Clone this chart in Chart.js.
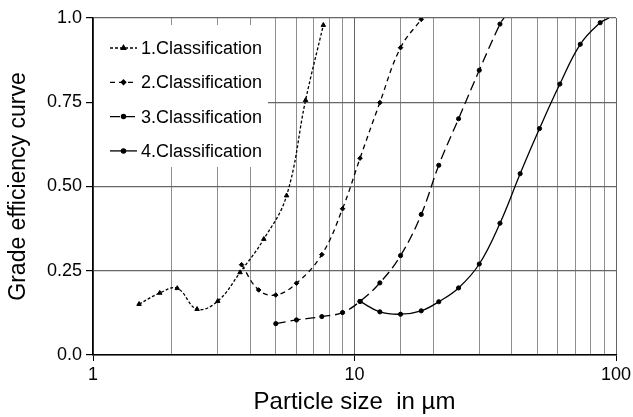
<!DOCTYPE html>
<html lang="en">
<head>
    <meta charset="UTF-8">
    <title>Grade efficiency curve</title>
    <script src="https://cdn.jsdelivr.net/npm/chart.js"></script>
    <style>
        body {
            margin: 0;
            background: #fff;
        }
        #wrap {
            width: 633px;
            height: 417px;
        }
    </style>
</head>
<body>
    <div id="wrap"><canvas id="chart" width="633" height="417"></canvas></div>

    <script>
        // Data (x = particle size in µm, y = grade efficiency)
        const labels = ['1.Classification', '2.Classification', '3.Classification', '4.Classification'];

        const size1 = [1.5, 1.8, 2.1, 2.5, 3.0, 3.65, 4.5, 5.5, 6.5, 7.6];
        const eff1  = [0.151, 0.184, 0.198, 0.136, 0.16, 0.245, 0.344, 0.473, 0.756, 0.979];

        const size2 = [3.7, 4.3, 5, 6, 7.5, 9, 10.5, 12.5, 15, 18];
        const eff2  = [0.268, 0.193, 0.178, 0.213, 0.298, 0.434, 0.584, 0.749, 0.912, 0.996];

        const size3 = [5, 6, 7.5, 9, 10.5, 12.5, 15, 18, 21, 25, 30, 36, 37.3];
        const eff3  = [0.093, 0.104, 0.114, 0.126, 0.159, 0.214, 0.295, 0.417, 0.563, 0.701, 0.845, 0.982, 1.0];

        const size4 = [10.5, 12.5, 15, 18, 21, 25, 30, 36, 43, 51, 61, 73, 87, 94];
        const eff4  = [0.159, 0.128, 0.121, 0.131, 0.158, 0.199, 0.27, 0.391, 0.538, 0.672, 0.804, 0.922, 0.986, 1.0];

        // how many points of each series carry a marker (the rest is the curve running into 1.0)
        const marked = [10, 10, 12, 13];

        const xTickLabels = [1, 10, 100];
        const yTickLabels = ['0.0', '0.25', '0.50', '0.75', '1.0'];

        const FONT = "'Liberation Sans', Arial, sans-serif";

        function pts(xs, ys) {
            return xs.map((x, i) => ({ x: x, y: ys[i] }));
        }

        const styles = [
            { dash: [3, 2],  point: 'triangle', r: 2.6 },
            { dash: [5, 4],  point: 'rectRot',  r: 2.3 },
            { dash: [10, 5], point: 'circle',   r: 2.1 },
            { dash: [],      point: 'circle',   r: 2.1 }
        ];
        const series = [pts(size1, eff1), pts(size2, eff2), pts(size3, eff3), pts(size4, eff4)];

        const datasets = series.map((d, i) => ({
            label: labels[i],
            data: d,
            borderColor: '#000',
            backgroundColor: '#000',
            borderWidth: 1.3,
            borderDash: styles[i].dash,
            pointStyle: styles[i].point,
            pointRadius: ctx => ctx.dataIndex < marked[i] ? styles[i].r : 0,
            pointBorderWidth: 1,
            tension: 0.4,
            fill: false
        }));

        // legend inside the plot, top left, on a white box
        const insideLegend = {
            id: 'insideLegend',
            afterDatasetsDraw(chart) {
                const ctx = chart.ctx;
                ctx.save();
                ctx.fillStyle = '#fff';
                ctx.fillRect(94, 25, 174, 142);
                ctx.font = '18px ' + FONT;
                ctx.textBaseline = 'middle';
                chart.data.datasets.forEach((ds, i) => {
                    const y = 48 + i * 34.3;
                    ctx.strokeStyle = '#000';
                    ctx.lineWidth = 1.3;
                    ctx.setLineDash(styles[i].dash);
                    ctx.beginPath();
                    ctx.moveTo(110, y);
                    ctx.lineTo(137, y);
                    ctx.stroke();
                    ctx.setLineDash([]);
                    ctx.fillStyle = '#000';
                    Chart.helpers.drawPoint(ctx, {
                        pointStyle: styles[i].point, radius: styles[i].r, rotation: 0, borderWidth: 1
                    }, 123.5, y);
                    ctx.fillStyle = '#000';
                    ctx.fillText(ds.label, 141, y + 1);
                });
                ctx.restore();
            }
        };

        new Chart(document.getElementById('chart').getContext('2d'), {
            type: 'line',
            data: { datasets: datasets },
            options: {
                responsive: false,
                animation: false,
                layout: { padding: { top: 18, right: 17, left: 0, bottom: 0 } },
                plugins: {
                    legend: { display: false },
                    tooltip: { enabled: false }
                },
                scales: {
                    x: {
                        type: 'logarithmic',
                        min: 1,
                        max: 100,
                        afterFit: scale => {
                            scale.height = 62;
                            scale.paddingLeft = 0;
                            scale.paddingRight = 0;
                        },
                        border: { color: '#000', width: 1.5 },
                        grid: {
                            color: ctx => xTickLabels.includes(ctx.tick && ctx.tick.value) ? '#666' : '#8f8f8f',
                            lineWidth: 1,
                            tickLength: 6,
                            tickColor: ctx => xTickLabels.includes(ctx.tick && ctx.tick.value) ? '#000' : 'rgba(0,0,0,0)'
                        },
                        ticks: {
                            autoSkip: false,
                            maxRotation: 0,
                            color: '#000',
                            padding: 3,
                            font: { family: FONT, size: 18 },
                            callback: v => xTickLabels.includes(v) ? String(v) : ''
                        },
                        title: {
                            display: true,
                            text: 'Particle size  in µm',
                            color: '#000',
                            font: { family: FONT, size: 24 },
                            padding: { top: 0, bottom: 0 }
                        }
                    },
                    y: {
                        min: 0,
                        max: 1,
                        afterFit: scale => { scale.width = 93; },
                        border: { color: '#000', width: 1.5 },
                        grid: {
                            color: '#666',
                            lineWidth: 1.2,
                            tickLength: 7,
                            tickColor: '#000'
                        },
                        ticks: {
                            stepSize: 0.25,
                            color: '#000',
                            padding: 4,
                            font: { family: FONT, size: 18 },
                            callback: (v, i) => yTickLabels[i]
                        },
                        title: {
                            display: true,
                            text: 'Grade efficiency curve',
                            color: '#000',
                            font: { family: FONT, size: 23 },
                            padding: { top: 5, bottom: 0 }
                        }
                    }
                }
            },
            plugins: [insideLegend]
        });
    </script>
</body>
</html>
